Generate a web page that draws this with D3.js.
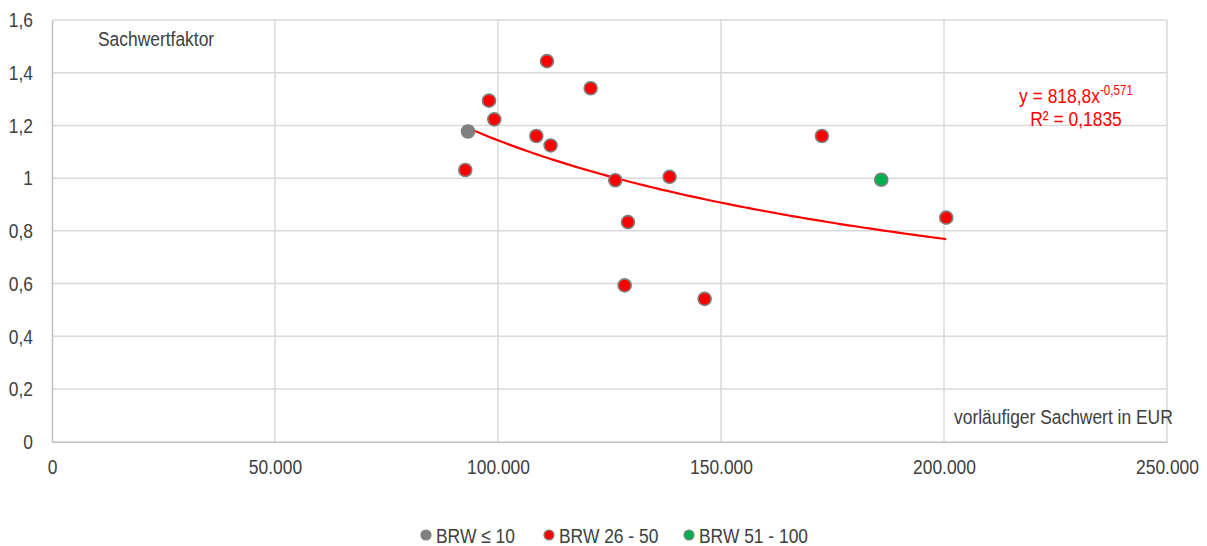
<!DOCTYPE html>
<html>
<head>
<meta charset="utf-8">
<script src="https://cdn.jsdelivr.net/npm/d3@7"></script>
<style>
  body { margin: 0; background: #fff; }
  text { font-family: "Liberation Sans", Arial, sans-serif; fill: #404040; font-size: 21px; }
</style>
</head>
<body>
<svg id="chart" width="1207" height="546"></svg>
<script>
// Sachwert (EUR) and Sachwertfaktor per group
const grpLow = [{x: 93270, y: 1.177}];
const grpMid = [
  {x: 110980, y: 1.444}, {x: 120780, y: 1.341}, {x: 97980, y: 1.294},
  {x: 99170, y: 1.223}, {x: 108590, y: 1.160}, {x: 111800, y: 1.124},
  {x: 92670, y: 1.031}, {x: 126300, y: 0.992}, {x: 138480, y: 1.005},
  {x: 129140, y: 0.833}, {x: 128400, y: 0.593}, {x: 146330, y: 0.542},
  {x: 172630, y: 1.160}, {x: 200500, y: 0.850}
];
const grpHigh = [{x: 185930, y: 0.994}];
const seriesNames = ["BRW ≤ 10", "BRW 26 - 50", "BRW 51 - 100"];
const seriesColors = ["#808080", "#ff0000", "#00b050"];
// power trend y = a * x^b
const trendA = 818.8, trendB = -0.571;
const xTicks = [0, 50000, 100000, 150000, 200000, 250000];
const yTicks = [0, 0.2, 0.4, 0.6, 0.8, 1, 1.2, 1.4, 1.6];

const svg = d3.select("#chart");
const pLeft = 52, pRight = 1167, pTop = 20, pBottom = 441.7;
const narrow = 0.83; // condensed look of the original font

const x = d3.scaleLinear().domain([0, 250000]).range([pLeft, pRight]);
const y = d3.scaleLinear().domain([0, 1.6]).range([pBottom, pTop]);
const deFmt = d3.formatLocale({decimal: ",", thousands: ".", grouping: [3], currency: ["", " €"]});
const fx = deFmt.format(",.0f");
const fy = v => deFmt.format(",")(+v.toFixed(1));

// grid
svg.append("g").selectAll("line").data(yTicks.slice(1)).enter().append("line")
  .attr("x1", pLeft).attr("x2", pRight)
  .attr("y1", d => y(d)).attr("y2", d => y(d))
  .attr("stroke", "#d9d9d9").attr("stroke-width", 1.5);
svg.append("g").selectAll("line").data(xTicks.slice(1)).enter().append("line")
  .attr("x1", d => x(d)).attr("x2", d => x(d))
  .attr("y1", pTop).attr("y2", pBottom)
  .attr("stroke", "#d9d9d9").attr("stroke-width", 1.5);

// axes
const xAxis = svg.append("g").attr("transform", `translate(0,${pBottom})`)
  .call(d3.axisBottom(x).tickValues(xTicks).tickFormat(fx).tickSize(0).tickPadding(19));
const yAxis = svg.append("g").attr("transform", `translate(${pLeft},0)`)
  .call(d3.axisLeft(y).tickValues(yTicks).tickFormat(fy).tickSize(0).tickPadding(19));
[xAxis, yAxis].forEach(a => {
  a.select(".domain").attr("stroke", "#bfbfbf").attr("stroke-width", 1.5);
  a.selectAll(".tick text").attr("font-size", null).attr("font-family", null)
    .attr("fill", "#404040").attr("transform", `scale(${narrow},1)`);
});
xAxis.selectAll(".tick text").attr("y", 17);
yAxis.selectAll(".tick text").attr("x", -19 / narrow);

// trendline
const xs = grpLow.concat(grpMid, grpHigh).map(d => d.x);
const tx = d3.range(0, 101).map(i => d3.min(xs) + (d3.max(xs) - d3.min(xs)) * i / 100);
svg.append("path")
  .datum(tx)
  .attr("fill", "none").attr("stroke", "#ff0000").attr("stroke-width", 2.2)
  .attr("d", d3.line().x(d => x(d)).y(d => y(trendA * Math.pow(d, trendB))));

// points
[grpLow, grpMid, grpHigh].forEach((grp, k) => {
  svg.append("g").selectAll("circle").data(grp).enter().append("circle")
    .attr("cx", d => x(d.x)).attr("cy", d => y(d.y)).attr("r", 6.5)
    .attr("fill", seriesColors[k])
    .attr("stroke", "#7f7f7f").attr("stroke-width", 1.6);
});

// labels
function label(px, py, anchor) {
  return svg.append("text")
    .attr("transform", `translate(${px},${py}) scale(${narrow},1)`)
    .attr("text-anchor", anchor || "start");
}
label(98, 46).text("Sachwertfaktor");
label(954, 424).text("vorläufiger Sachwert in EUR");

const eq = label(1076, 103, "middle").style("fill", "#ff0000");
eq.append("tspan").text("y = 818,8x");
eq.append("tspan").attr("dy", -8).style("font-size", "14px").text("-0,571");
label(1076, 126, "middle").style("fill", "#ff0000").text("R² = 0,1835");

// legend
const legX = [426, 549, 689];
const leg = svg.append("g").selectAll("g").data(seriesNames).enter().append("g")
  .attr("transform", (d, i) => `translate(${legX[i]},535)`);
leg.append("circle").attr("r", 5).attr("fill", (d, i) => seriesColors[i])
  .attr("stroke", "#7f7f7f").attr("stroke-width", 1.2);
leg.append("text").attr("transform", `translate(10,7.5) scale(${narrow},1)`).text(d => d);
</script>
</body>
</html>
